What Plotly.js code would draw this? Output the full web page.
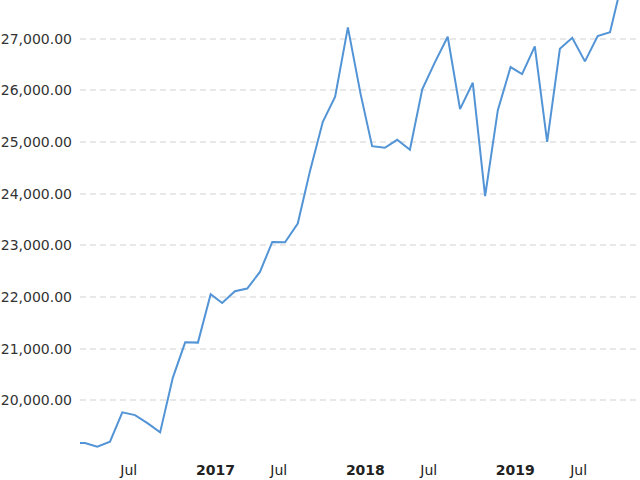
<!DOCTYPE html>
<html>
<head>
<meta charset="utf-8">
<script src="https://cdn.plot.ly/plotly-3.0.1.min.js"></script>
<style>html,body{margin:0;padding:0;background:#fff;}#chart{width:640px;height:480px;}</style>
</head>
<body>
<div id="chart"></div>
<script>
const months = [
  "2016-03-01","2016-04-01","2016-05-01","2016-06-01","2016-07-01","2016-08-01","2016-09-01","2016-10-01","2016-11-01","2016-12-01",
  "2017-01-01","2017-02-01","2017-03-01","2017-04-01","2017-05-01","2017-06-01","2017-07-01","2017-08-01","2017-09-01","2017-10-01","2017-11-01","2017-12-01",
  "2018-01-01","2018-02-01","2018-03-01","2018-04-01","2018-05-01","2018-06-01","2018-07-01","2018-08-01","2018-09-01","2018-10-01","2018-11-01","2018-12-01",
  "2019-01-01","2019-02-01","2019-03-01","2019-04-01","2019-05-01","2019-06-01","2019-07-01","2019-08-01","2019-09-01","2019-10-01","2019-11-01"
];
const values = [
  19173, 19173, 19103, 19200, 19767, 19715, 19554, 19380, 20440, 21124,
  21118, 22054, 21884, 22112, 22165, 22486, 23068, 23060, 23424, 24448, 25393, 25878,
  27223, 25930, 24922, 24890, 25045, 24851, 26021, 26550, 27041, 25640, 26149, 23953,
  25620, 26453, 26318, 26855, 25006, 26808, 27021, 26564, 27054, 27126, 28159
];
const xTickVals = ["2016-07-01","2017-01-01","2017-07-01","2018-01-01","2018-07-01","2019-01-01","2019-07-01"];
const xTickText = ["Jul","<b>2017</b>","Jul","<b>2018</b>","Jul","<b>2019</b>","Jul"];
const yTickVals = [19000,20000,21000,22000,23000,24000,25000,26000,27000];
const yTickText = ["","20,000.00","21,000.00","22,000.00","23,000.00","24,000.00","25,000.00","26,000.00","27,000.00"];

const trace = {
  x: months, y: values, type: "scatter", mode: "lines",
  line: {color: "#5294d6", width: 2},
  hoverinfo: "skip"
};
const layout = {
  width: 640, height: 480,
  margin: {l: 80, r: 0, t: 0, b: 28, pad: 0},
  paper_bgcolor: "#fff", plot_bgcolor: "#fff",
  showlegend: false,
  font: {family: "DejaVu Sans, Verdana, sans-serif", size: 14, color: "#333"},
  xaxis: {
    type: "date",
    range: ["2016-03-20", "2019-12-13"],
    tickvals: xTickVals, ticktext: xTickText,
    ticklabelposition: "outside right",
    showgrid: false, zeroline: false, showline: false, ticks: "",
    tickfont: {size: 14, color: "#222"},
    ticklabelstandoff: 8,
    ticklabelshift: -2
  },
  yaxis: {
    range: [19000, 27752],
    tickvals: yTickVals, ticktext: yTickText,
    showgrid: true, gridcolor: "#e8e8e8", gridwidth: 2, griddash: "6px,4px",
    zeroline: false, showline: false, ticks: "",
    tickfont: {size: 14, color: "#333"},
    ticklabelstandoff: 7
  }
};
Plotly.newPlot("chart", [trace], layout, {staticPlot: true, displayModeBar: false});
</script>
</body>
</html>
